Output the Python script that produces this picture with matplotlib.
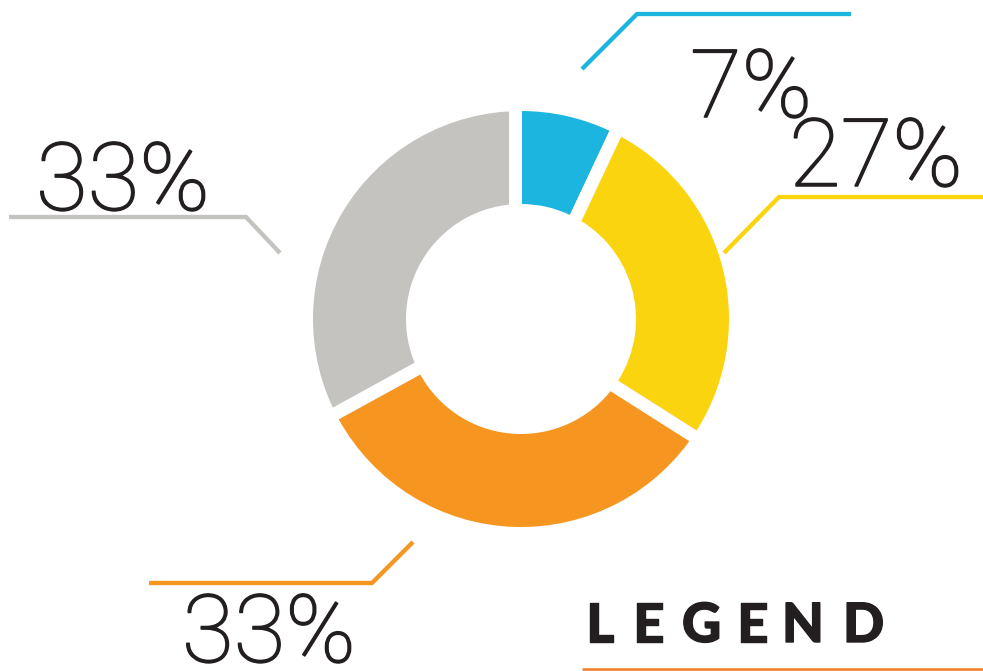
import numpy as np
import matplotlib
matplotlib.use("Agg")
import matplotlib.pyplot as plt
import matplotlib.patheffects as pe

# ---- data ----
labels = ["7%", "27%", "33%", "33%"]
values = [7, 27, 33, 33]
colors = ["#1BB5E0", "#FAD40E", "#F6951F", "#C4C3BF"]

W, H = 983, 671
def Y(y):  # image y -> axis y (up)
    return H - y

# layout (image pixel coords)
cx, cy = 521, 319
R_out, R_in = 208, 115
gap = 13
leaders = [
    [(582, 69), (637, 14), (851, 14)],
    [(724, 253), (779, 197), (983, 197)],
    [(413, 542), (372, 583), (149, 583)],
    [(280, 253), (246, 217), (9, 217)],
]
label_pos = [(690, 117), (789, 186), (182, 662), (36, 210)]
text_color = "#231F20"

fig = plt.figure(figsize=(W / 100, H / 100), dpi=100)
ax = fig.add_axes([0, 0, 1, 1])

ax.pie(values, colors=colors, startangle=90, counterclock=False,
       radius=R_out, center=(cx, Y(cy)), frame=True,
       wedgeprops=dict(width=R_out - R_in, linewidth=0))
ax.set_xlim(0, W)
ax.set_ylim(0, H)
ax.set_aspect("equal")
ax.axis("off")

# separators between slices (offset toward the following slice, top one toward gray)
cum = np.cumsum([0] + values[:-1])
total = float(sum(values))
for i, c in enumerate(cum):
    th = np.deg2rad(90 - 360 * c / total)
    tang = np.array([np.sin(th), -np.cos(th)])  # clockwise tangent
    sign = -1 if i == 0 else 1
    off = sign * tang * gap / 2
    x0, y0 = cx + off[0], Y(cy) + off[1]
    x1 = x0 + (R_out + 10) * np.cos(th)
    y1 = y0 + (R_out + 10) * np.sin(th)
    ax.plot([x0, x1], [y0, y1], color="white", lw=gap * 0.72,
            solid_capstyle="butt", zorder=3)

for pts, col in zip(leaders, colors):
    xs = [p[0] for p in pts]
    ys = [Y(p[1]) for p in pts]
    ax.plot(xs, ys, color=col, lw=3.1, solid_capstyle="butt",
            solid_joinstyle="miter", zorder=4)

for lab, (x, y) in zip(labels, label_pos):
    ax.text(x, Y(y), lab, fontsize=68, family=["Roboto", "DejaVu Sans"],
            fontweight="light", color=text_color, ha="left", va="baseline",
            zorder=5,
            path_effects=[pe.withStroke(linewidth=1.1, foreground=text_color)])

legend_letters = "LEGEND"
legend_x = [586, 633, 682, 737, 782, 843]
for ch, x in zip(legend_letters, legend_x):
    ax.text(x, Y(642), ch, fontsize=39, family=["Lato", "DejaVu Sans"],
            fontweight="black", color=text_color, ha="left", va="baseline",
            path_effects=[pe.withStroke(linewidth=1.0, foreground=text_color)])

ax.plot([582, 983], [Y(669), Y(669)], color="#F47B20", lw=1.8,
        solid_capstyle="butt")

fig.savefig("out.png", dpi=100)
